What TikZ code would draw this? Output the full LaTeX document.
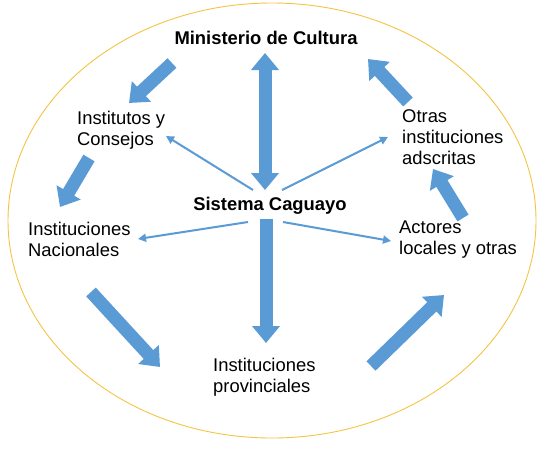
\documentclass[tikz,border=0pt]{standalone}
\usepackage{fontspec}
\setmainfont{Liberation Sans}
\usetikzlibrary{arrows.meta}
\definecolor{arrblue}{HTML}{5B9BD5}
\definecolor{ringgold}{HTML}{F4C542}
\begin{document}
\begin{tikzpicture}[x=1pt,y=-1pt,
  lbl/.style={font=\fontsize{18.4}{21}\selectfont, align=left, inner sep=0pt, anchor=west},
  ttl/.style={font=\fontsize{18.4}{21}\selectfont\bfseries, inner sep=0pt},
  bigarr/.style={draw=arrblue, line width=13pt, -{Triangle[width=27pt,length=17pt]}},
  bigdbl/.style={draw=arrblue, line width=13pt, {Triangle[width=27pt,length=17pt]}-{Triangle[width=27pt,length=17pt]}},
  thinarr/.style={draw=arrblue, line width=2pt, -{Triangle[width=8pt,length=8pt]}}]
\useasboundingbox (0,0) rectangle (545,450);
\fill[white] (0,0) rectangle (545,450);
\draw[ringgold, line width=0.9pt] (272,220.5) ellipse [x radius=264, y radius=217.5];

\node[ttl] (mc) at (266,38) {Ministerio de Cultura};
\node[ttl] (sc) at (270,206) {Sistema Caguayo};
\node[lbl] (ic) at (77,130) {Institutos y\\Consejos};
\node[lbl] (oi) at (402,137) {Otras\\instituciones\\adscritas};
\node[lbl] (in) at (28,239) {Instituciones\\Nacionales};
\node[lbl] (al) at (399,240) {Actores\\locales y otras};
\node[lbl] (ip) at (213,377) {Instituciones\\provinciales};

% big arrow end points
\coordinate (a1s) at (172,63);  \coordinate (a1e) at (129,103);
\coordinate (a2s) at (265,53);  \coordinate (a2e) at (265,190);
\coordinate (a3s) at (408,102); \coordinate (a3e) at (368,59);
\coordinate (a4s) at (89,158);  \coordinate (a4e) at (60,207);
\coordinate (a5s) at (463,218); \coordinate (a5e) at (433,169);
\coordinate (a6s) at (266,219); \coordinate (a6e) at (266,343);
\coordinate (a7s) at (91,292);  \coordinate (a7e) at (160,367);
\coordinate (a8s) at (371,366); \coordinate (a8e) at (444,295);
% thin arrow end points
\coordinate (t1s) at (253,190); \coordinate (t1e) at (166,136);
\coordinate (t2s) at (282,190); \coordinate (t2e) at (388,137);
\coordinate (t3s) at (248,222); \coordinate (t3e) at (138,239);
\coordinate (t4s) at (283,222); \coordinate (t4e) at (391,241);

\draw[bigarr] (a1s) -- (a1e);
\draw[bigdbl] (a2s) -- (a2e);
\draw[bigarr] (a3s) -- (a3e);
\draw[bigarr] (a4s) -- (a4e);
\draw[bigarr] (a5s) -- (a5e);
\draw[bigarr] (a6s) -- (a6e);
\draw[bigarr] (a7s) -- (a7e);
\draw[bigarr] (a8s) -- (a8e);

\draw[thinarr] (t1s) -- (t1e);
\draw[thinarr] (t2s) -- (t2e);
\draw[thinarr] (t3s) -- (t3e);
\draw[thinarr] (t4s) -- (t4e);
\end{tikzpicture}
\end{document}
